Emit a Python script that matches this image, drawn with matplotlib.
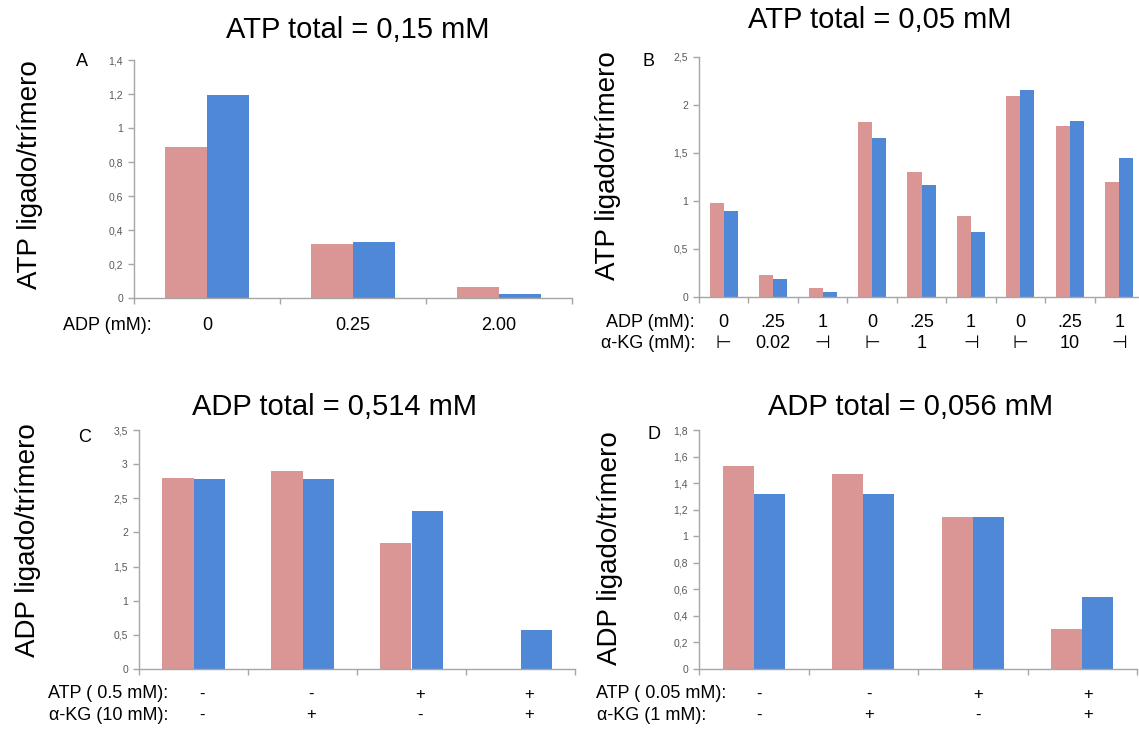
import matplotlib
matplotlib.use("Agg")
import matplotlib.pyplot as plt
import numpy as np
from matplotlib.transforms import blended_transform_factory

# ---- data ----
a_labels = ["0", "0.25", "2.00"]
a_pink = [0.89, 0.32, 0.062]
a_blue = [1.195, 0.331, 0.025]

b_adp = ["0", ".25", "1", "0", ".25", "1", "0", ".25", "1"]
b_kg = ["\u22a2", "0.02", "\u22a3", "\u22a2", "1", "\u22a3", "\u22a2", "10", "\u22a3"]
b_pink = [0.975, 0.233, 0.094, 1.82, 1.30, 0.846, 2.096, 1.78, 1.20]
b_blue = [0.90, 0.19, 0.056, 1.66, 1.17, 0.68, 2.16, 1.835, 1.445]

c_atp = ["-", "-", "+", "+"]
c_kg = ["-", "+", "-", "+"]
c_pink = [2.79, 2.90, 1.84, 0.0]
c_blue = [2.78, 2.78, 2.31, 0.575]

d_atp = ["-", "-", "+", "+"]
d_kg = ["-", "+", "-", "+"]
d_pink = [1.53, 1.467, 1.148, 0.30]
d_blue = [1.316, 1.316, 1.148, 0.541]

PINK = "#D99694"
BLUE = "#4F88D6"
AXC = "#A6A6A6"
TXT = "#595959"
FONT = ["Liberation Sans", "DejaVu Sans"]

plt.rcParams["font.family"] = FONT

W, H = 1139, 729
fig = plt.figure(figsize=(W / 100, H / 100), dpi=100)

TITLE_FS = 21
YLAB_FS = 20
CAT_FS = 13


def px_axes(left, top, right, bottom):
    return fig.add_axes([left / W, 1 - bottom / H, (right - left) / W, (bottom - top) / H])


def panel(ax, pink, blue, ymax, ystep):
    n = len(pink)
    x = np.arange(n)
    bw = 0.285
    ax.bar(x - bw / 2, pink, bw, color=PINK, zorder=2)
    ax.bar(x + bw / 2, blue, bw, color=BLUE, zorder=2)
    ax.set_xlim(-0.5, n - 0.5)
    ax.set_ylim(0, ymax)
    ticks = np.arange(0, ymax + 1e-9, ystep)
    ax.set_yticks(ticks)
    ax.set_yticklabels([f"{t:g}".replace(".", ",") for t in ticks])
    ax.set_xticks(np.arange(n + 1) - 0.5)
    ax.set_xticklabels([])
    for s in ("top", "right"):
        ax.spines[s].set_visible(False)
    for s in ("left", "bottom"):
        ax.spines[s].set_color(AXC)
        ax.spines[s].set_linewidth(1.0)
    ax.tick_params(axis="both", colors=AXC, length=4, width=1.0, labelcolor=TXT,
                   labelsize=7.5)
    ax.tick_params(axis="y", pad=4)


def row(ax, xs, labels, ypix, fs=CAT_FS):
    tr = blended_transform_factory(ax.transData, fig.transFigure)
    for xv, lab in zip(xs, labels):
        ax.text(xv, 1 - ypix / H, lab, transform=tr, ha="center", va="center",
                fontsize=fs, color="black", family=FONT)


def ftext(xp, yp, s, fs, **kw):
    fig.text(xp / W, 1 - yp / H, s, va="center", fontsize=fs, **kw)


# ---- A ----
axA = px_axes(134, 60, 572, 298)
panel(axA, a_pink, a_blue, 1.4, 0.2)
row(axA, range(3), a_labels, 326)
ftext(152, 326, "ADP (mM):", CAT_FS, ha="right")
ftext(358, 30, "ATP total = 0,15 mM", TITLE_FS, ha="center")
ftext(82, 62, "A", 13, ha="center")
ftext(30, 175, "ATP ligado/trímero", YLAB_FS, ha="center", rotation=90)

# ---- B ----
axB = px_axes(699, 57, 1144, 297)
panel(axB, b_pink, b_blue, 2.5, 0.5)
row(axB, range(9), b_adp, 322)
row(axB, range(9), b_kg, 343)
ftext(695, 322, "ADP (mM):", CAT_FS, ha="right")
ftext(695, 343, "\u03b1-KG (mM):", CAT_FS, ha="right")
ftext(880, 20, "ATP total = 0,05 mM", TITLE_FS, ha="center")
ftext(648, 61, "B", 13, ha="center")
ftext(608, 166, "ATP ligado/trímero", YLAB_FS, ha="center", rotation=90)

# ---- C ----
axC = px_axes(139, 430, 575, 669)
panel(axC, c_pink, c_blue, 3.5, 0.5)
row(axC, np.arange(4) + 0.08, c_atp, 694, fs=12)
row(axC, np.arange(4) + 0.08, c_kg, 715, fs=12)
ftext(168, 694, "ATP ( 0.5 mM):", CAT_FS, ha="right")
ftext(168, 715, "\u03b1-KG (10 mM):", CAT_FS, ha="right")
ftext(335, 407, "ADP total = 0,514 mM", TITLE_FS, ha="center")
ftext(85, 437, "C", 13, ha="center")
ftext(28, 540, "ADP ligado/trímero", YLAB_FS, ha="center", rotation=90)

# ---- D ----
axD = px_axes(699, 430, 1137, 669)
panel(axD, d_pink, d_blue, 1.8, 0.2)
row(axD, np.arange(4) + 0.05, d_atp, 694, fs=12)
row(axD, np.arange(4) + 0.05, d_kg, 715, fs=12)
ftext(726, 694, "ATP ( 0.05 mM):", CAT_FS, ha="right")
ftext(706, 715, "\u03b1-KG (1 mM):", CAT_FS, ha="right")
ftext(911, 407, "ADP total = 0,056 mM", TITLE_FS, ha="center")
ftext(654, 435, "D", 13, ha="center")
ftext(610, 548, "ADP ligado/trímero", YLAB_FS, ha="center", rotation=90)

fig.savefig("out.png", dpi=100, facecolor="white")
